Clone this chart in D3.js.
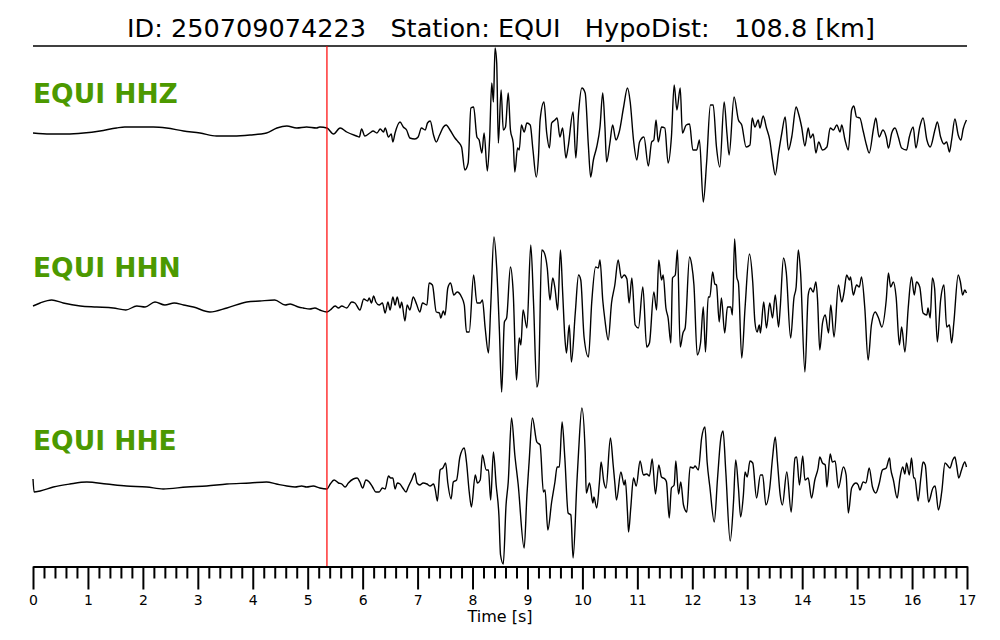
<!DOCTYPE html>
<html><head><meta charset="utf-8">
<script src="https://cdn.jsdelivr.net/npm/d3@7"></script>
<style>body{margin:0;background:#fff}svg{display:block}</style>
</head><body>
<svg id="c" width="1000" height="640"></svg>
<script>
// ---- data ----
const eventId = "250709074223";
const station = "EQUI";
const hypoDist = 108.8;      // km
const channels = ["HHZ", "HHN", "HHE"];
const pickTime = 5.35;       // s (red marker)
const majorTicks = d3.range(0, 18, 1);
const minorTicks = d3.range(0, 85).map(i => +(i * 0.2).toFixed(1)).filter(v => Math.abs(v - Math.round(v)) > 1e-6);

// [time s, amplitude]
const hhz = [[0.00,-2],[0.31,-3],[0.61,-3],[0.92,-2],[1.22,0],[1.52,3],[1.67,4],[1.95,4],[2.19,4],[2.43,3],[2.74,0],[3.04,-2],[3.34,-5],[3.65,-5],[3.95,-4],[4.25,-2],[4.44,3],[4.62,5],[4.80,3],[4.98,4],[5.16,3],
[5.22,4],[5.35,3],[5.47,-3],[5.59,3],[5.71,-1],[5.89,-5],[5.94,-6],[5.98,2],[6.04,-5],[6.13,-2],[6.19,0],[6.26,-2],[6.32,2],[6.38,-1],[6.41,3],[6.47,-6],[6.52,-3],[6.55,-11],[6.59,-2],[6.68,9],[6.74,4],[6.80,1],[6.86,-7],[6.95,-8],[7.01,-6],[7.07,3],[7.14,1],[7.18,8],[7.23,10],[7.29,-4],[7.34,-11],[7.40,-4],[7.47,4],[7.52,6],[7.59,1],[7.68,-7],[7.74,-11],[7.80,-16],[7.86,-39],[7.92,-32],[7.97,23],[8.02,24],[8.08,-6],[8.12,-9],[8.17,-22],[8.21,-2],[8.27,-40],[8.31,-9],[8.35,48],[8.38,29],[8.41,83],[8.44,68],[8.47,-12],[8.52,41],[8.56,1],[8.60,4],[8.65,38],[8.69,1],[8.74,-12],[8.77,-41],[8.82,-17],[8.85,-19],[8.89,6],[8.94,-1],[8.99,8],[9.05,6],[9.10,-19],[9.16,-46],[9.20,-26],[9.23,11],[9.30,29],[9.35,-2],[9.40,-17],[9.44,8],[9.50,11],[9.54,13],[9.59,-6],[9.64,3],[9.70,-27],[9.74,-16],[9.83,19],[9.88,-27],[9.93,18],[9.99,43],[10.05,38],[10.11,-16],[10.15,-46],[10.20,-29],[10.26,-16],[10.32,4],[10.37,38],[10.41,4],[10.44,-31],[10.50,-12],[10.55,6],[10.61,-9],[10.67,-1],[10.75,24],[10.82,43],[10.87,29],[10.93,-9],[10.99,-29],[11.04,-11],
[11.12,-6],[11.20,-35],[11.26,-11],[11.30,-9],[11.34,11],[11.38,-11],[11.44,4],[11.50,3],[11.56,-32],[11.62,-6],[11.67,46],[11.72,21],[11.78,43],[11.82,-2],[11.89,6],[11.95,7],[12.01,-19],[12.08,-19],[12.13,-9],[12.20,-71],[12.26,-32],[12.33,26],[12.38,26],[12.44,-16],[12.50,-36],[12.58,29],[12.63,-2],[12.67,-24],[12.76,34],[12.84,11],[12.90,6],[12.98,-16],[13.05,-14],[13.09,13],[13.14,4],[13.20,11],[13.23,3],[13.29,15],[13.35,3],[13.41,-9],[13.46,-29],[13.51,-44],[13.57,-22],[13.63,-2],[13.69,14],[13.75,-19],[13.81,-6],[13.89,24],[13.93,18],[13.99,4],[14.05,-15],[14.11,3],[14.15,-7],[14.20,-3],[14.25,-22],[14.30,-11],[14.37,-19],[14.45,-16],[14.51,3],[14.57,1],[14.63,6],[14.69,-1],[14.72,6],[14.78,-9],[14.84,-19],[14.90,21],[14.94,25],[14.99,14],[15.05,13],[15.11,0],[15.17,-14],[15.22,-22],[15.30,3],[15.34,13],[15.40,-6],[15.47,1],[15.53,-6],[15.57,-17],[15.63,-2],[15.69,3],[15.75,-6],[15.81,-17],[15.90,-19],[15.95,-6],[16.02,4],[16.07,-17],[16.14,4],[16.20,13],[16.27,-9],[16.33,-16],[16.42,2],[16.46,9],[16.52,-6],[16.58,-13],[16.63,-11],[16.68,-21],[16.72,-9],[16.78,12],[16.84,-4],[16.89,-9],[16.93,2],[16.99,11]];

const hhn = [[0.00,-1],[0.13,2],[0.34,5],[0.55,2],[0.86,-1],[1.16,-2],[1.46,-3],[1.69,-5],[1.89,-1],[2.04,-2],[2.22,3],[2.40,0],[2.57,2],[2.74,0],[2.92,-2],[3.22,-7],[3.53,-3],[3.89,3],[4.13,4],[4.40,5],[4.59,0],[4.68,1],[4.83,-2],[4.92,-3],[5.04,-4],[5.13,-3],
[5.22,-5],[5.35,-7],[5.41,-5],[5.50,-1],[5.56,-3],[5.62,-1],[5.71,-3],[5.80,3],[5.86,2],[5.95,-5],[6.02,6],[6.09,4],[6.12,7],[6.16,2],[6.20,9],[6.24,3],[6.30,0],[6.36,2],[6.41,-8],[6.46,3],[6.50,-5],[6.55,8],[6.59,0],[6.63,8],[6.68,-3],[6.71,3],[6.77,-16],[6.81,0],[6.86,-5],[6.92,8],[6.98,1],[7.04,-7],[7.09,2],[7.17,0],[7.21,22],[7.27,20],[7.34,-7],[7.40,-8],[7.42,-13],[7.47,-6],[7.50,-10],[7.55,17],[7.60,22],[7.66,10],[7.72,13],[7.80,8],[7.85,0],[7.89,-27],[7.94,-27],[8.02,30],[8.08,2],[8.14,2],[8.18,5],[8.23,-23],[8.29,-48],[8.33,-3],[8.39,68],[8.44,37],[8.49,-27],[8.53,-87],[8.58,-17],[8.62,-13],[8.69,38],[8.74,13],[8.80,-75],[8.85,-33],[8.88,-40],[8.92,-5],[8.99,-23],[9.06,60],[9.11,3],[9.17,-82],[9.20,-75],[9.26,55],[9.30,53],[9.36,37],[9.41,5],[9.46,27],[9.50,17],[9.55,-5],[9.60,55],[9.64,13],[9.68,-32],[9.71,-48],[9.76,-20],[9.80,-57],[9.87,-8],[9.93,30],[9.97,25],[10.03,-32],[10.11,-52],[10.17,3],[10.24,38],[10.29,37],[10.32,45],[10.37,5],[10.41,-15],[10.47,-35],[10.53,2],[10.59,20],[10.65,45],[10.71,27],[10.76,30],[10.81,26],[10.85,2],[10.90,27],[10.96,-20],[11.02,-23],
[11.10,18],[11.17,-42],[11.22,-38],[11.30,13],[11.35,-5],[11.39,45],[11.44,25],[11.47,30],[11.52,-3],[11.56,-13],[11.61,-38],[11.64,27],[11.69,30],[11.73,55],[11.78,-42],[11.83,-28],[11.87,-23],[11.95,48],[11.99,40],[12.03,20],[12.09,-50],[12.15,-38],[12.20,-2],[12.24,-47],[12.29,8],[12.32,8],[12.37,33],[12.41,21],[12.44,20],[12.49,-17],[12.53,7],[12.59,-28],[12.64,-2],[12.70,-2],[12.73,-10],[12.77,66],[12.81,28],[12.84,22],[12.90,-53],[12.96,-3],[13.04,51],[13.10,23],[13.14,-17],[13.18,-27],[13.22,-20],[13.24,-28],[13.30,3],[13.35,-23],[13.41,2],[13.46,-13],[13.51,10],[13.57,-22],[13.60,-3],[13.66,47],[13.71,33],[13.79,-33],[13.85,7],[13.89,18],[13.93,55],[13.97,33],[14.05,-67],[14.11,10],[14.15,17],[14.20,13],[14.25,23],[14.28,5],[14.32,-45],[14.37,-18],[14.42,-10],[14.48,-28],[14.52,0],[14.58,-32],[14.66,20],[14.72,3],[14.76,12],[14.81,30],[14.86,25],[14.88,28],[14.93,10],[14.99,20],[15.04,18],[15.08,28],[15.14,-3],[15.20,-55],[15.26,-20],[15.33,-7],[15.39,-13],[15.45,-22],[15.53,5],[15.57,32],[15.61,18],[15.66,23],[15.71,8],[15.77,-40],[15.81,-22],[15.87,-47],[15.93,-3],[15.99,28],[16.04,10],[16.08,23],[16.14,18],[16.20,-8],[16.27,-10],[16.29,-3],[16.33,-13],[16.37,27],[16.41,17],[16.46,-37],[16.52,5],[16.58,20],[16.63,-22],[16.68,-20],[16.72,-38],[16.76,-18],[16.84,30],[16.88,23],[16.92,10],[16.96,15],[16.99,12]];

const hhe = [[0.00,7],[0.02,-6],[0.13,-5],[0.37,-1],[0.67,2],[0.98,4],[1.34,2],[1.70,0],[2.07,-1],[2.37,-3],[2.80,-1],[3.16,0],[3.53,2],[3.95,3],[4.25,4],[4.43,2],[4.62,0],[4.77,-1],[4.89,0],[4.98,-1],[5.10,0],
[5.22,-2],[5.35,-3],[5.41,2],[5.48,6],[5.56,3],[5.62,2],[5.68,-1],[5.74,3],[5.83,7],[5.90,8],[5.95,4],[6.00,-2],[6.06,6],[6.12,4],[6.18,-1],[6.24,-6],[6.30,-6],[6.36,-2],[6.41,-3],[6.47,10],[6.51,8],[6.55,8],[6.59,-3],[6.63,3],[6.68,2],[6.73,-2],[6.79,-6],[6.83,-1],[6.89,6],[6.95,13],[6.99,3],[7.04,1],[7.10,3],[7.17,2],[7.23,0],[7.29,2],[7.32,-3],[7.36,-15],[7.41,16],[7.46,18],[7.51,23],[7.55,3],[7.61,-13],[7.65,4],[7.71,6],[7.77,29],[7.85,38],[7.89,24],[7.94,-6],[7.98,-21],[8.05,11],[8.09,3],[8.14,6],[8.18,31],[8.25,16],[8.29,16],[8.33,-14],[8.38,34],[8.43,1],[8.48,-29],[8.51,-69],[8.56,-78],[8.61,-19],[8.65,4],[8.71,68],[8.77,31],[8.83,2],[8.94,-62],[8.99,-9],[9.03,24],[9.09,68],[9.17,44],[9.23,41],[9.29,-6],[9.32,-4],[9.37,-44],[9.44,-16],[9.50,4],[9.54,19],[9.58,19],[9.63,64],[9.68,28],[9.74,-27],[9.79,-29],[9.83,-72],[9.90,4],[9.93,34],[9.99,78],[10.05,34],[10.07,-7],[10.13,3],[10.19,-17],[10.21,-11],[10.26,-22],[10.31,4],[10.34,24],[10.39,4],[10.43,-2],[10.51,48],[10.56,21],[10.59,3],[10.62,-14],[10.70,14],[10.76,1],[10.78,6],[10.82,-26],[10.84,-46],[10.88,-22],[10.93,8],[10.98,0],
[11.05,25],[11.11,11],[11.17,12],[11.22,10],[11.27,27],[11.33,-8],[11.39,21],[11.44,9],[11.50,7],[11.53,4],[11.58,-32],[11.62,-2],[11.67,1],[11.70,25],[11.75,-8],[11.79,4],[11.84,-19],[11.90,-26],[11.96,19],[12.02,18],[12.05,20],[12.11,16],[12.17,48],[12.23,59],[12.27,24],[12.32,-1],[12.40,-36],[12.46,8],[12.52,48],[12.56,55],[12.61,14],[12.69,-55],[12.75,-16],[12.79,26],[12.84,-2],[12.88,-31],[12.93,-9],[12.96,14],[13.00,9],[13.05,25],[13.10,23],[13.17,-12],[13.24,11],[13.28,11],[13.34,-19],[13.41,-2],[13.46,28],[13.51,49],[13.55,24],[13.60,-9],[13.64,-19],[13.72,14],[13.80,-26],[13.87,28],[13.90,29],[13.95,1],[14.01,30],[14.05,6],[14.11,8],[14.17,-12],[14.23,6],[14.29,18],[14.32,29],[14.37,23],[14.42,21],[14.45,-1],[14.51,32],[14.55,24],[14.60,25],[14.66,-2],[14.75,19],[14.80,11],[14.84,-27],[14.90,-2],[14.98,3],[15.02,1],[15.05,-4],[15.11,4],[15.16,3],[15.22,18],[15.28,-1],[15.34,-7],[15.40,2],[15.46,16],[15.53,18],[15.59,28],[15.61,18],[15.66,6],[15.73,-12],[15.78,8],[15.83,19],[15.87,12],[15.90,23],[15.95,11],[15.99,28],[16.03,8],[16.05,8],[16.11,-15],[16.16,8],[16.20,24],[16.24,21],[16.30,-16],[16.38,-2],[16.42,0],[16.48,-24],[16.54,-6],[16.60,23],[16.64,21],[16.69,18],[16.74,26],[16.78,29],[16.81,21],[16.85,8],[16.90,16],[16.96,24],[16.99,19]];

const traces = [hhz, hhn, hhe];

// ---- layout ----
(function () {
const svg = d3.select("#c");
const left = 33, right = 967, topY = 46, axisY = 566.5;
const baselines = [131, 305, 486];
const half = 100;
const font = "DejaVu Sans, Verdana, sans-serif";

const x = d3.scaleLinear().domain([0, 17]).range([left, right]);

// title
const title = svg.append("text")
  .attr("x", (left + right) / 2 + 1).attr("y", 37)
  .attr("text-anchor", "middle")
  .style("white-space", "pre")
  .attr("font-family", font).attr("font-size", 26).attr("fill", "#000")
  .text(`ID: ${eventId}   Station: ${station}   HypoDist:   ${hypoDist.toFixed(1)} [km]`);
const tw = title.node().getComputedTextLength();
if (tw > 0) title.attr("font-size", 26 * 748 / tw);

// top rule
svg.append("line").attr("x1", left).attr("x2", right).attr("y1", topY).attr("y2", topY)
  .attr("stroke", "#000").attr("stroke-width", 1.4);

// traces
const labelY = [103, 277, 450];
traces.forEach((data, i) => {
  const y = d3.scaleLinear().domain([-half, half]).range([baselines[i] + half, baselines[i] - half]);
  const line = d3.line().x(d => x(d[0])).y(d => y(d[1])).curve(d3.curveMonotoneX);
  svg.append("path").datum(data).attr("d", line)
    .attr("fill", "none").attr("stroke", "#000").attr("stroke-width", 1.4)
    .attr("stroke-linejoin", "round");
  svg.append("text").attr("x", left).attr("y", labelY[i])
    .attr("font-family", font).attr("font-weight", "bold").attr("font-size", 26.5)
    .attr("fill", "#4c9900").text(`${station} ${channels[i]}`);
});

// pick marker
svg.append("line").attr("x1", x(pickTime)).attr("x2", x(pickTime)).attr("y1", topY).attr("y2", axisY)
  .attr("stroke", "#ff0000").attr("stroke-width", 1.2);

// axis
const gMinor = svg.append("g").attr("transform", `translate(0,${axisY})`)
  .call(d3.axisBottom(x).tickValues(minorTicks).tickSize(12).tickSizeOuter(0).tickFormat(""));
const gMajor = svg.append("g").attr("transform", `translate(0,${axisY})`)
  .call(d3.axisBottom(x).tickValues(majorTicks).tickSize(23).tickSizeOuter(0).tickPadding(6).tickFormat(d3.format("d")));
[gMinor, gMajor].forEach(g => {
  g.select(".domain").attr("stroke", "#000").attr("stroke-width", 2);
  g.selectAll(".tick line").attr("stroke", "#000").attr("stroke-width", 2);
});
gMajor.selectAll(".tick text").attr("font-family", font).attr("font-size", 14).attr("fill", "#000")
  .attr("y", 29).attr("dy", "0.71em");
svg.append("text").attr("x", (left + right) / 2).attr("y", 622).attr("text-anchor", "middle")
  .attr("font-family", font).attr("font-size", 16).attr("fill", "#000").text("Time [s]");
})();
</script>
</body></html>
